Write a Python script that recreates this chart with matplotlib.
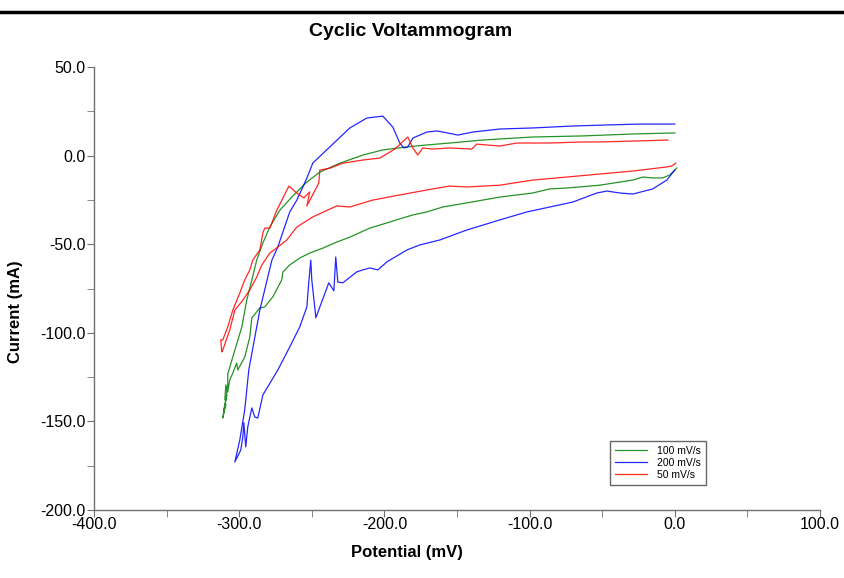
import matplotlib.pyplot as plt
from matplotlib.ticker import MultipleLocator, FormatStrFormatter

# ==========================================
# DATA  (potential in mV, current in mA)
# ==========================================

# 100 mV/s: cathodic sweep (right -> left) then anodic return (left -> right)
green_x = [1.4, -3.4, -8.3, -15.2, -22.0, -28.9, -51.7, -74.4, -86.1, -97.8,
           -120.5, -143.3, -159.8, -170.8, -180.4, -189.4, -196.3, -210.0,
           -223.8, -232.8, -242.4, -251.4, -258.3, -265.2, -269.9, -270.7,
           -276.9, -282.4, -285.8, -291.3, -292.7, -296.2, -301.0, -301.7,
           -304.4, -306.5, -307.9, -309.2, -309.9, -308.5, -310.6, -309.2,
           -311.3,
           -310.6, -309.2, -307.9, -307.9, -303.0, -298.2, -294.8, -291.3,
           -287.9, -283.7, -278.9, -272.0, -263.8, -253.4, -244.5, -230.7,
           -214.9, -201.1, -184.6, -170.8, -155.0, -132.2, -97.8, -63.4,
           -28.9, 0.0]
green_y = [-7.0, -10.9, -12.6, -12.6, -12.1, -13.8, -16.7, -18.3, -18.8, -21.1,
           -23.4, -26.7, -29.0, -31.8, -33.5, -35.7, -37.5, -40.9,
           -46.0, -48.8, -52.2, -55.0, -57.8, -61.7, -65.7, -70.2,
           -79.8, -85.4, -86.0, -91.6, -102.4, -113.7, -121.0, -117.0,
           -122.7, -126.6, -133.4, -129.4, -137.9, -135.1, -143.6, -140.2,
           -148.1,
           -144.7, -137.9, -129.4, -123.3, -109.8, -96.7, -81.6, -70.2,
           -58.9, -49.3, -40.3, -30.8, -23.4, -14.9, -9.3, -4.3,
           0.3, 3.2, 4.9, 6.0, 7.1, 8.8, 10.5, 11.1,
           12.2, 12.8]

# 200 mV/s
blue_x = [0.0, -5.5, -15.2, -28.9, -37.9, -46.8, -53.7, -70.2, -86.1, -101.9,
          -120.5, -143.3, -161.8, -175.6, -184.6, -198.3, -204.5, -210.0,
          -214.9, -219.0, -228.6, -232.1, -233.5, -234.8, -238.3, -247.2,
          -250.0, -250.7, -252.1, -253.4, -258.3, -265.2, -273.4, -283.7,
          -287.2, -289.3, -291.3, -294.1, -295.5, -296.8, -297.5, -298.9,
          -303.0,
          -299.6, -296.2, -293.4, -285.8, -277.5, -273.4, -265.2, -260.3,
          -253.4, -249.3, -237.6, -223.8, -212.1, -201.1, -194.2, -189.4,
          -186.6, -183.9, -180.4, -170.8, -163.9, -159.8, -149.4, -139.1,
          -120.5, -97.8, -70.2, -46.8, -24.1, 0.0]
blue_y = [-8.1, -13.8, -18.8, -21.7, -21.1, -20.0, -21.1, -26.2, -29.0, -31.8,
          -36.3, -42.0, -47.6, -50.4, -53.3, -60.0, -64.5, -63.4,
          -64.5, -65.6, -71.8, -71.3, -57.2, -76.3, -71.8, -91.5,
          -70.2, -59.0, -71.7, -85.4, -96.7, -108.0, -121.0, -135.1,
          -148.1, -147.5, -142.4, -153.1, -164.4, -150.8, -158.8, -166.1,
          -172.9,
          -160.5, -143.6, -121.0, -87.2, -59.0, -51.6, -31.8, -25.1,
          -12.7, -4.2, 4.9, 15.6, 21.2, 22.3, 16.1, 7.1,
          4.3, 4.9, 9.9, 13.3, 13.9, 13.3, 11.6, 13.3,
          15.0, 15.6, 16.7, 17.3, 17.8, 17.8]

# 50 mV/s
red_x = [0.7, -2.1, -5.5, -28.9, -51.7, -74.4, -97.8, -120.5, -143.3, -155.0,
         -166.7, -189.4, -208.0, -223.8, -232.8, -249.3, -260.3, -267.2,
         -273.4, -278.9, -284.4, -287.9, -292.7, -297.5, -303.0, -306.5,
         -311.3, -312.0,
         -312.7, -311.3, -307.9, -304.4, -299.6, -296.2, -292.7, -290.6,
         -285.8, -283.7, -282.4, -278.9, -274.1, -265.8, -260.3, -255.5,
         -251.4, -253.4, -246.6, -245.2, -244.5, -237.6, -228.6, -214.9,
         -203.2, -192.8, -183.9, -180.4, -177.0, -173.6, -166.7, -155.0,
         -139.8, -136.4, -129.5, -120.5, -108.8, -86.1, -63.4, -51.7,
         -28.9, -4.8]
red_y = [-4.2, -5.9, -6.4, -8.7, -10.4, -12.1, -13.8, -16.7, -17.7, -17.2,
         -18.8, -22.2, -25.1, -29.0, -28.4, -34.6, -40.3, -47.6,
         -51.6, -55.0, -61.7, -68.5, -75.8, -81.6, -87.2, -98.4,
         -109.7, -110.8,
         -104.0, -104.0, -96.7, -87.2, -77.6, -70.2, -64.5, -58.9,
         -53.3, -43.7, -40.9, -40.9, -30.8, -17.2, -21.1, -23.9,
         -20.5, -28.4, -17.7, -15.5, -8.2, -7.1, -4.3, -2.5,
         -1.4, 3.7, 10.5, 4.3, 0.3, 4.3, 3.7, 4.3,
         3.7, 6.5, 6.0, 5.4, 7.1, 7.1, 7.7, 7.7,
         8.2, 8.8]

SERIES = [
    ("100 mV/s", green_x, green_y, "#008000"),
    ("200 mV/s", blue_x, blue_y, "#0000ff"),
    ("50 mV/s", red_x, red_y, "#ff0000"),
]

# ==========================================
# STYLE
# ==========================================

plt.rcParams["font.family"] = ["Liberation Sans", "DejaVu Sans"]
plt.rcParams["axes.unicode_minus"] = False

AXIS_GREY = "#707070"
W, H = 844, 578

# ==========================================
# PLOT
# ==========================================

fig = plt.figure(figsize=(W / 100, H / 100), dpi=100)
ax = fig.add_axes([94 / W, 1 - 510 / H, 726 / W, 443 / H])

for label, xs, ys, color in SERIES:
    ax.plot(xs, ys, color=color, linewidth=0.9, alpha=0.85, label=label)

ax.set_xlim(-400, 100)
ax.set_ylim(-200, 50)
ax.xaxis.set_major_locator(MultipleLocator(100))
ax.xaxis.set_minor_locator(MultipleLocator(50))
ax.yaxis.set_major_locator(MultipleLocator(50))
ax.yaxis.set_minor_locator(MultipleLocator(25))
ax.xaxis.set_major_formatter(FormatStrFormatter("%.1f"))
ax.yaxis.set_major_formatter(FormatStrFormatter("%.1f"))

for side in ("top", "right"):
    ax.spines[side].set_visible(False)
for side in ("left", "bottom"):
    ax.spines[side].set_color(AXIS_GREY)
    ax.spines[side].set_linewidth(1.0)

ax.tick_params(which="both", direction="out", color=AXIS_GREY, labelsize=11.5,
               length=5)
ax.tick_params(axis="x", pad=0)
ax.tick_params(axis="y", pad=1)

# titles sit left of the axes centre in the reference
fig.text(411 / W, 1 - 32 / H, "Cyclic Voltammogram", fontsize=14,
         fontweight="bold", ha="center", va="center")
fig.text(407 / W, 1 - 553 / H, "Potential (mV)", fontsize=12,
         fontweight="bold", ha="center", va="center")
fig.text(16 / W, 1 - 312 / H, "Current (mA)", fontsize=12,
         fontweight="bold", ha="center", va="center", rotation=90)

leg = ax.legend(loc="lower right", bbox_to_anchor=(0.843, 0.056),
                borderaxespad=0, fontsize=7.5, frameon=True, fancybox=False,
                edgecolor="#404040", handlelength=3.0, handletextpad=1.0,
                borderpad=0.5, labelspacing=0.2)
leg.get_frame().set_linewidth(1.0)

# page header rule cut off at the top of the screenshot
fig.add_artist(plt.Line2D([0, 1], [1 - 12 / H, 1 - 12 / H],
                          transform=fig.transFigure, color="black", linewidth=2.5))

plt.savefig("out.png", dpi=100)
print("Saved: out.png")
